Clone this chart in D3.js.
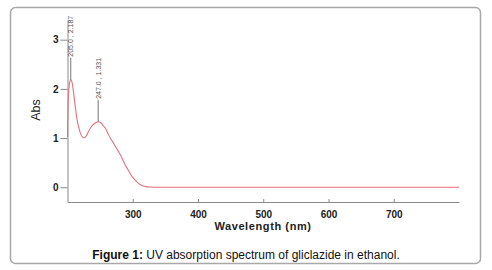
<!DOCTYPE html>
<html lang="en">
<head>
    <meta charset="utf-8">
    <title>UV spectrum</title>
    <script src="https://cdn.jsdelivr.net/npm/d3@7/dist/d3.min.js"></script>
    <style type="text/css">
        body { margin: 0; background: #fff; }
        svg { display: block; font-family: Arial, "Liberation Sans", sans-serif; }
        .axis path, .axis line { stroke: #8a8a8a; }
        .axis text { fill: #222; font-weight: bold; font-size: 10px; }
        .peak { fill: #555; font-size: 7px; }
    </style>
</head>
<body>
    <div id="chart"></div>
    <script>
        // spectrum
        var wavelength = [200, 201, 203, 205, 207, 209, 212, 215, 217, 220, 223, 225, 228, 231, 235, 239, 243, 247,
            251, 255, 259, 262, 266, 270, 273, 277, 281, 285, 288, 292, 296, 300, 304, 308, 312, 316, 320, 326, 340, 400, 500, 600, 700, 800];
        var absorbance = [1.02, 1.75, 2.1, 2.187, 2.13, 1.96, 1.63, 1.35, 1.23, 1.09, 1.02, 1.006, 1.03, 1.1, 1.2, 1.27, 1.31, 1.331,
            1.31, 1.25, 1.18, 1.09, 0.99, 0.91, 0.84, 0.75, 0.66, 0.55, 0.46, 0.37, 0.28, 0.2, 0.14, 0.09, 0.05, 0.025, 0.012, 0.005, 0.0, 0.0, 0.0, 0.0, 0.0, 0.0];

        var peakX = [205.0, 247.0];
        var peakY = [2.187, 1.331];
        var peakLabels = ["205.0 , 2.187", "247.0 , 1.331"];

        var xTicks = [300, 400, 500, 600, 700];
        var yTicks = [0, 1, 2, 3];

        var svg = d3.select("#chart")
            .append("svg")
            .attr("width", 492)
            .attr("height", 270);

        // frame
        svg.append("rect")
            .attr("x", 10.5).attr("y", 7.5)
            .attr("width", 470).attr("height", 256)
            .attr("rx", 5)
            .attr("fill", "none")
            .attr("stroke", "#a8a8a8")
            .attr("stroke-width", 1.5);

        var x = d3.scaleLinear().domain([200, 800]).range([67.5, 459]);
        var y = d3.scaleLinear().domain([-0.3, 3.4]).range([202, 20]);

        svg.append("g")
            .attr("class", "axis")
            .attr("transform", "translate(0,202)")
            .call(d3.axisBottom(x).tickValues(xTicks).tickSizeInner(-3).tickSizeOuter(0).tickPadding(6))
            .selectAll("text").attr("dy", "0.95em");

        svg.append("g")
            .attr("class", "axis")
            .attr("transform", "translate(67.5,0)")
            .call(d3.axisLeft(y).tickValues(yTicks).tickFormat(d3.format("d")).tickSizeInner(7).tickSizeOuter(0).tickPadding(2))
            .selectAll("text").attr("font-size", "11px");

        var line = d3.line()
            .x(function (d) { return x(d[0]); })
            .y(function (d) { return y(d[1]); })
            .curve(d3.curveMonotoneX);

        svg.append("path")
            .datum(d3.zip(wavelength, absorbance))
            .attr("d", line)
            .attr("fill", "none")
            .attr("stroke", "#e5707c")
            .attr("stroke-width", 1.1);

        // peak markers
        peakX.forEach(function (p, i) {
            var px = x(p), py = y(peakY[i]);
            svg.append("line")
                .attr("x1", px).attr("x2", px)
                .attr("y1", py).attr("y2", py - 22)
                .attr("stroke", "#777");
            svg.append("text")
                .attr("class", "peak")
                .attr("transform", "translate(" + (px + 2.5) + "," + (py - 23) + ") rotate(-90)")
                .text(peakLabels[i]);
        });

        svg.append("text")
            .attr("transform", "translate(40,110) rotate(-90)")
            .attr("text-anchor", "middle")
            .attr("font-size", "12.5px")
            .attr("fill", "#222")
            .text("Abs");

        svg.append("text")
            .attr("x", 263).attr("y", 229.5)
            .attr("text-anchor", "middle")
            .attr("font-size", "11px")
            .attr("font-weight", "bold")
            .attr("letter-spacing", "0.6px")
            .attr("fill", "#222")
            .text("Wavelength (nm)");

        var cap = svg.append("text")
            .attr("x", 246).attr("y", 259)
            .attr("text-anchor", "middle")
            .attr("font-size", "12px")
            .attr("fill", "#111");
        cap.append("tspan").attr("font-weight", "bold").text("Figure 1: ");
        cap.append("tspan").text("UV absorption spectrum of gliclazide in ethanol.");
    </script>
</body>
</html>
